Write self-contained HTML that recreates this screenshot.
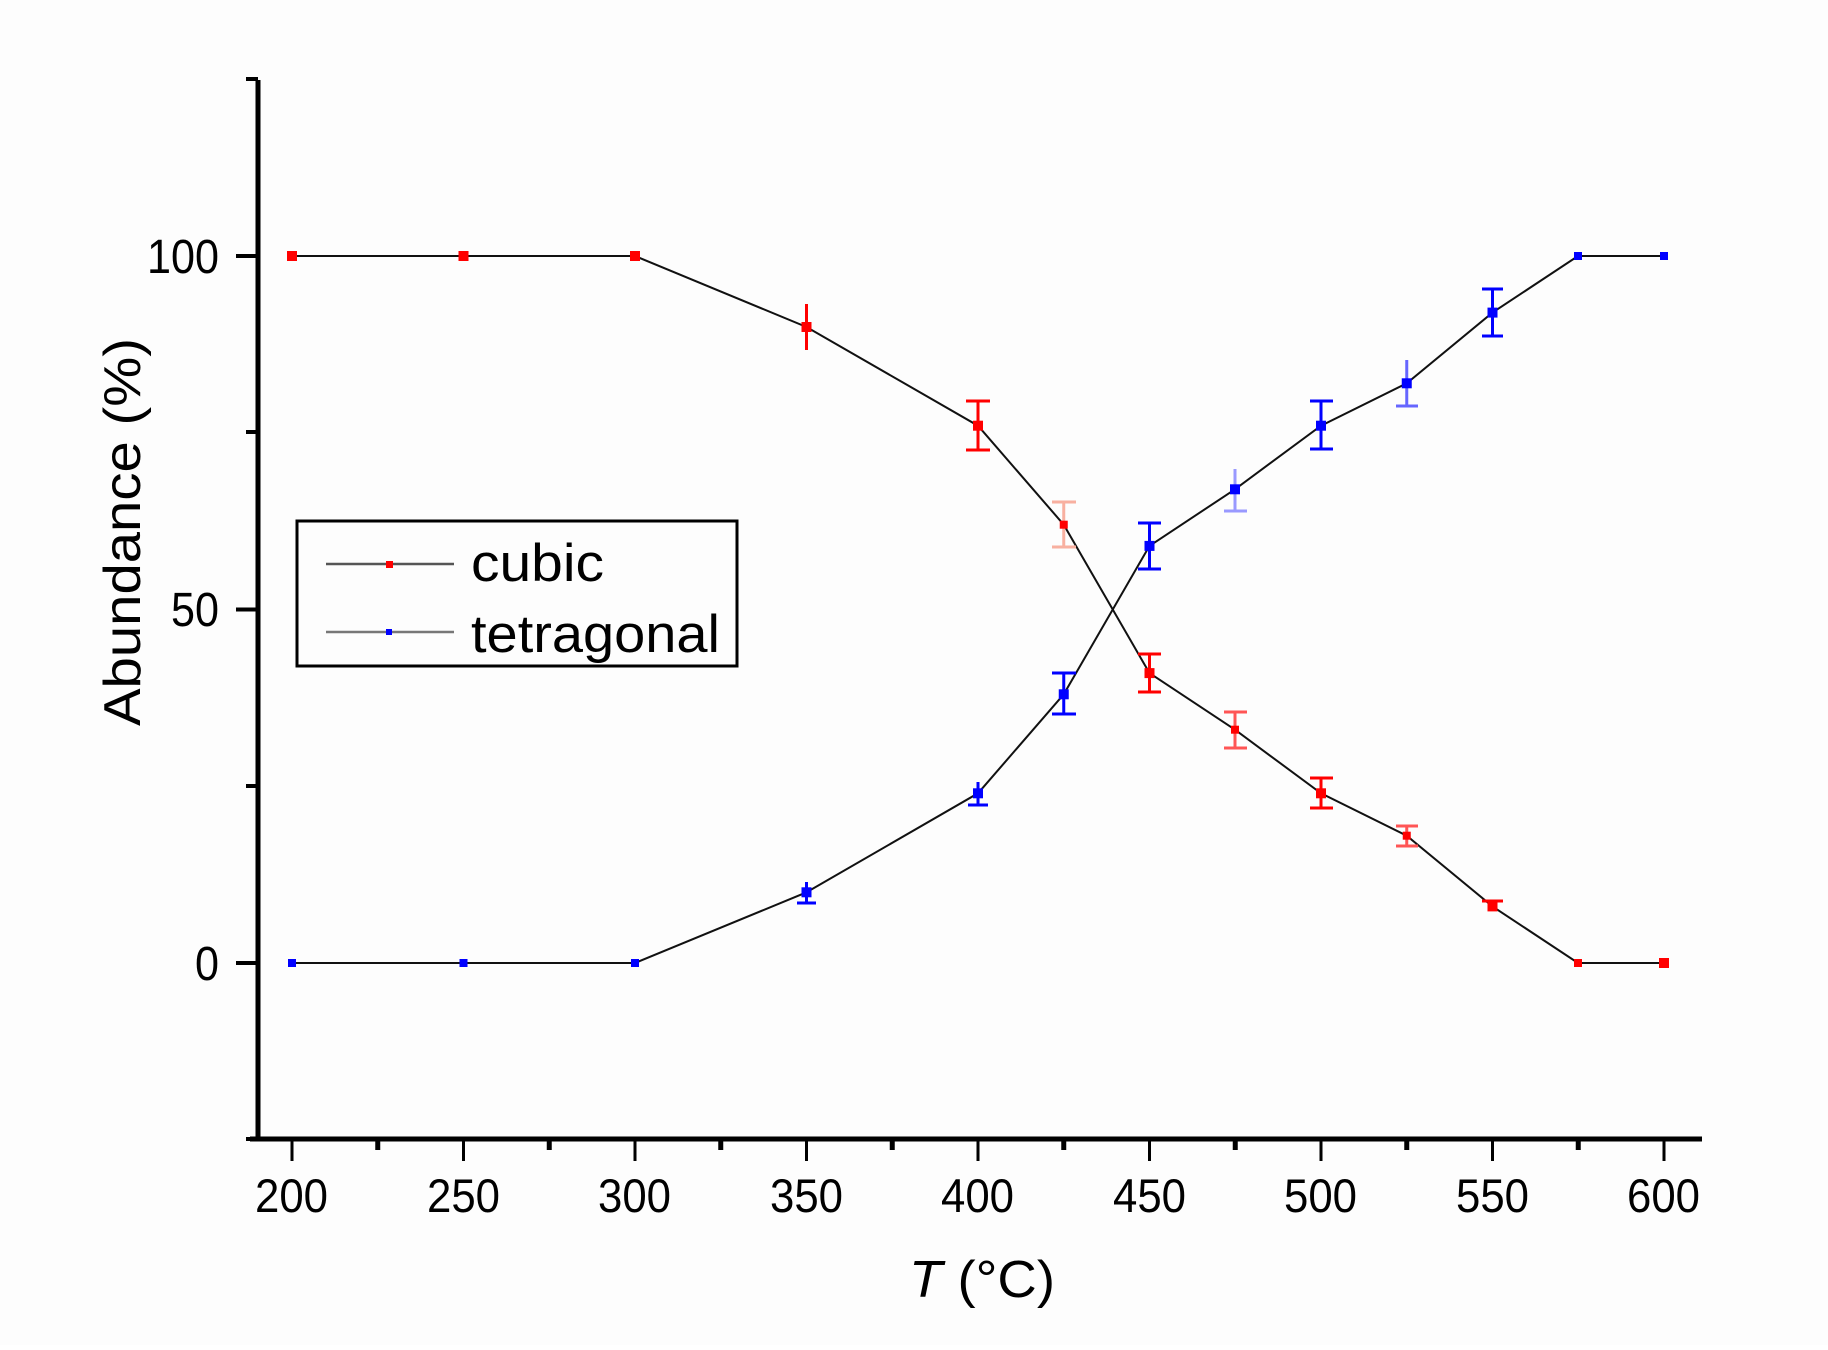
<!DOCTYPE html>
<html><head><meta charset="utf-8"><style>html,body{margin:0;padding:0;background:#fff}</style></head>
<body>
<svg width="1828" height="1345" xmlns="http://www.w3.org/2000/svg" font-family="Liberation Sans, Arial, sans-serif">
<rect width="1828" height="1345" fill="#fdfdfd"/>
<!-- axes -->
<line x1="258" y1="80" x2="258" y2="1141" stroke="#000" stroke-width="5"/>
<line x1="250" y1="1139" x2="1702" y2="1139" stroke="#000" stroke-width="5"/>
<!-- y ticks -->
<g stroke="#000" stroke-width="4">
<line x1="236" y1="256" x2="258" y2="256"/>
<line x1="236" y1="609.5" x2="258" y2="609.5"/>
<line x1="236" y1="963" x2="258" y2="963"/>
<line x1="246" y1="432" x2="258" y2="432"/>
<line x1="246" y1="786" x2="258" y2="786"/>
<line x1="246" y1="1139" x2="258" y2="1139"/>
<line x1="246" y1="79" x2="258" y2="79"/>
</g>
<!-- x ticks -->
<g stroke="#000" stroke-width="3">
<line x1="292" y1="1139" x2="292" y2="1161"/><line x1="463.5" y1="1139" x2="463.5" y2="1161"/>
<line x1="635" y1="1139" x2="635" y2="1161"/><line x1="806.5" y1="1139" x2="806.5" y2="1161"/>
<line x1="978" y1="1139" x2="978" y2="1161"/><line x1="1149.5" y1="1139" x2="1149.5" y2="1161"/>
<line x1="1321" y1="1139" x2="1321" y2="1161"/><line x1="1492.5" y1="1139" x2="1492.5" y2="1161"/>
<line x1="1664" y1="1139" x2="1664" y2="1161"/>
</g>
<g stroke="#000" stroke-width="5">
<line x1="377.75" y1="1139" x2="377.75" y2="1150"/><line x1="549.25" y1="1139" x2="549.25" y2="1150"/>
<line x1="720.75" y1="1139" x2="720.75" y2="1150"/><line x1="892.25" y1="1139" x2="892.25" y2="1150"/>
<line x1="1063.75" y1="1139" x2="1063.75" y2="1150"/><line x1="1235.25" y1="1139" x2="1235.25" y2="1150"/>
<line x1="1406.75" y1="1139" x2="1406.75" y2="1150"/><line x1="1578.25" y1="1139" x2="1578.25" y2="1150"/>
</g>
<!-- y labels -->
<g font-size="48" text-anchor="end" fill="#000">
<text x="219" y="273" textLength="72" lengthAdjust="spacingAndGlyphs">100</text>
<text x="219" y="626" textLength="48" lengthAdjust="spacingAndGlyphs">50</text>
<text x="219" y="980" textLength="24" lengthAdjust="spacingAndGlyphs">0</text>
</g>
<!-- x labels -->
<g font-size="47" fill="#000">
<text x="255" y="1212" textLength="73" lengthAdjust="spacingAndGlyphs">200</text>
<text x="427" y="1212" textLength="73" lengthAdjust="spacingAndGlyphs">250</text>
<text x="598" y="1212" textLength="73" lengthAdjust="spacingAndGlyphs">300</text>
<text x="770" y="1212" textLength="73" lengthAdjust="spacingAndGlyphs">350</text>
<text x="941" y="1212" textLength="73" lengthAdjust="spacingAndGlyphs">400</text>
<text x="1113" y="1212" textLength="73" lengthAdjust="spacingAndGlyphs">450</text>
<text x="1284" y="1212" textLength="73" lengthAdjust="spacingAndGlyphs">500</text>
<text x="1456" y="1212" textLength="73" lengthAdjust="spacingAndGlyphs">550</text>
<text x="1627" y="1212" textLength="73" lengthAdjust="spacingAndGlyphs">600</text>
</g>
<!-- titles -->
<text x="909" y="1297" font-size="52" fill="#000" textLength="146" lengthAdjust="spacingAndGlyphs"><tspan font-style="italic">T</tspan> (°C)</text>
<text transform="translate(140,726) rotate(-90)" font-size="52" fill="#000" textLength="388" lengthAdjust="spacingAndGlyphs">Abundance (%)</text>
<!-- series lines -->
<polyline fill="none" stroke="#111" stroke-width="2" points="292,256 463.5,256 635,256 806.5,327 978,425.7 1063.75,524.7 1149.5,673.1 1235,729.7 1321,793.3 1406.75,835.7 1492.5,906.4 1578,963 1664,963"/>
<polyline fill="none" stroke="#111" stroke-width="2" points="292,963 463.5,963 635,963 806.5,892.3 978,793.3 1063.75,694.3 1149.5,545.9 1235,489.3 1321,425.7 1406.75,383.3 1492.5,312.6 1578,256 1664,256"/>
<!-- cubic error bars -->
<g stroke="#f00" stroke-width="3" fill="none">
<line x1="806.5" y1="304" x2="806.5" y2="350"/>
<path d="M978,401 V450 M966,401 H990 M966,450 H990"/>
<path d="M1063.75,502 V547 M1052,502 H1076 M1052,547 H1076" stroke="#f8b0a0"/>
<path d="M1149.5,654 V692 M1138,654 H1161 M1138,692 H1161"/>
<path d="M1235,712 V748 M1224,712 H1247 M1224,748 H1247" stroke="#f55"/>
<path d="M1321,778 V808 M1310,778 H1333 M1310,808 H1333"/>
<path d="M1406.75,826 V846 M1396,826 H1418 M1396,846 H1418" stroke="#f55"/>
<path d="M1492.5,901 V910 M1482,901 H1503"/>
</g>
<g fill="#f00">
<rect x="287" y="251" width="10" height="10"/><rect x="458.5" y="251" width="10" height="10"/><rect x="630" y="251" width="10" height="10"/>
<rect x="801.5" y="322" width="10" height="10"/><rect x="973" y="420.7" width="10" height="10"/><rect x="1059.75" y="520.7" width="8" height="8"/>
<rect x="1144.5" y="668.1" width="10" height="10"/><rect x="1231" y="725.7" width="8" height="8"/><rect x="1316" y="788.3" width="10" height="10"/>
<rect x="1402.75" y="831.7" width="8" height="8"/><rect x="1487.5" y="901.4" width="10" height="10"/><rect x="1574" y="959" width="8" height="8"/><rect x="1659" y="958" width="10" height="10"/>
</g>
<!-- tetragonal error bars -->
<g stroke="#00f" stroke-width="3" fill="none">
<path d="M806.5,882 V903 M797,903 H816"/>
<path d="M978,782 V805 M968,805 H988"/>
<path d="M1063.75,673 V714 M1052,673 H1076 M1052,714 H1076"/>
<path d="M1149.5,523 V569 M1138,523 H1161 M1138,569 H1161"/>
<path d="M1235,469 V511 M1224,511 H1247" stroke="#99f"/>
<path d="M1321,401 V449 M1310,401 H1333 M1310,449 H1333"/>
<path d="M1406.75,360 V406 M1396,406 H1418" stroke="#66f"/>
<path d="M1492.5,289 V336 M1482,289 H1503 M1482,336 H1503"/>
</g>
<g fill="#00f">
<rect x="288" y="959" width="8" height="8"/><rect x="459.5" y="959" width="8" height="8"/><rect x="631" y="959" width="8" height="8"/>
<rect x="801.5" y="887.3" width="10" height="10"/><rect x="973" y="788.3" width="10" height="10"/><rect x="1058.75" y="689.3" width="10" height="10"/>
<rect x="1144.5" y="540.9" width="10" height="10"/><rect x="1230" y="484.3" width="10" height="10"/><rect x="1316" y="420.7" width="10" height="10"/>
<rect x="1401.75" y="378.3" width="10" height="10"/><rect x="1487.5" y="307.6" width="10" height="10"/><rect x="1574" y="252" width="8" height="8"/><rect x="1660" y="252" width="8" height="8"/>
</g>
<!-- legend -->
<rect x="297" y="521" width="440" height="145" fill="none" stroke="#000" stroke-width="3"/>
<line x1="326" y1="564" x2="454" y2="564" stroke="#555" stroke-width="2.5"/>
<rect x="386" y="561" width="7" height="7" fill="#f00"/>
<line x1="326" y1="632" x2="454" y2="632" stroke="#777" stroke-width="2.5"/>
<rect x="386" y="629" width="6" height="6" fill="#00f"/>
<text x="471" y="581" font-size="53" fill="#000" textLength="133" lengthAdjust="spacingAndGlyphs">cubic</text>
<text x="471" y="652" font-size="53" fill="#000" textLength="249" lengthAdjust="spacingAndGlyphs">tetragonal</text>
</svg>
</body></html>
